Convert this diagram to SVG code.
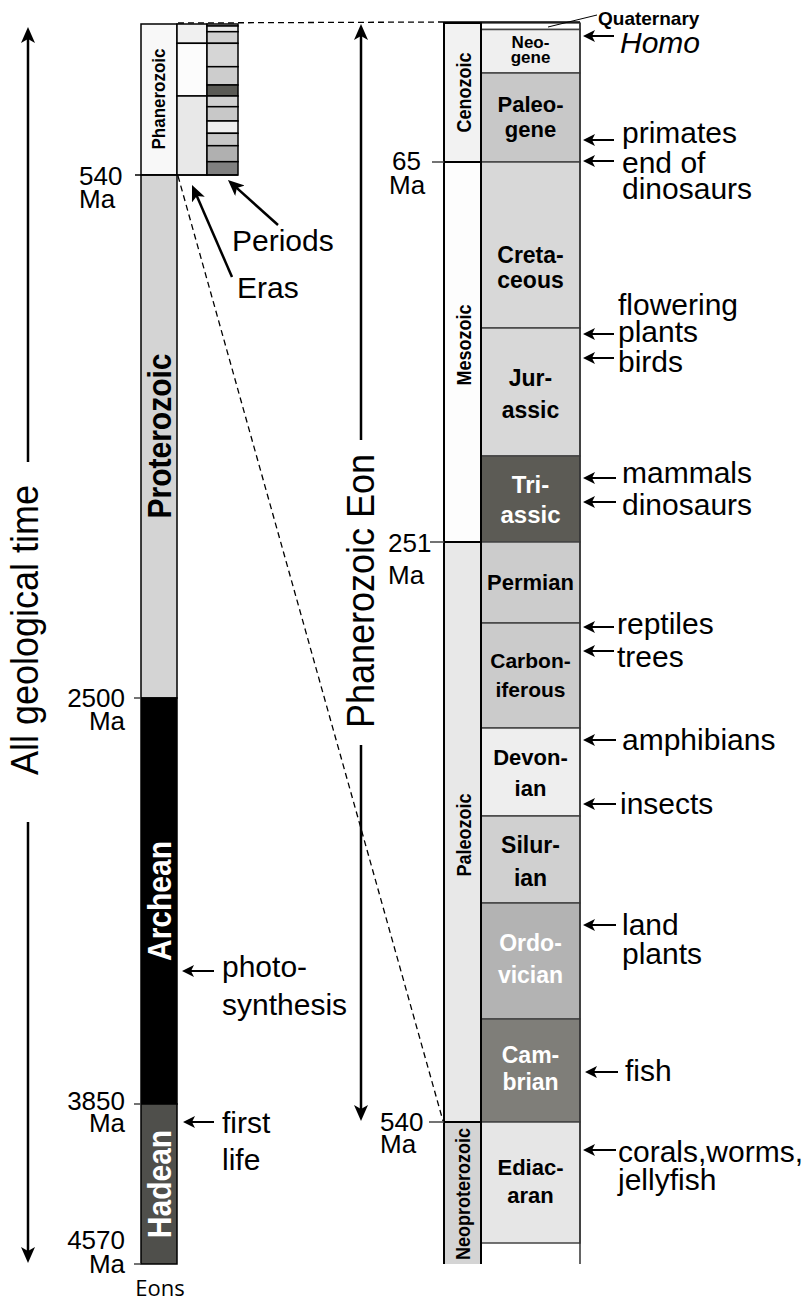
<svg xmlns="http://www.w3.org/2000/svg" width="810" height="1303" viewBox="0 0 810 1303">
<defs>
<style>
text{font-family:"Liberation Sans",Arial,Helvetica,sans-serif;fill:#000}
.lab{font-size:30px}
.tk{font-size:26px}
.pb{font-weight:bold;font-size:22px;text-anchor:middle}
.pw{font-weight:bold;font-size:22px;text-anchor:middle;fill:#fff}
.era{font-weight:bold;font-size:18px;text-anchor:middle}
.eon{font-weight:bold;font-size:30px;text-anchor:middle}
.big{font-size:36px;text-anchor:middle}
.bx{stroke:#000;stroke-width:1.5}
.pr{stroke:#444;stroke-width:1.5}
.er{stroke:#000;stroke-width:2}
.sa{stroke:#000;stroke-width:2;fill:none;marker-end:url(#s)}
.ba{stroke:#000;stroke-width:2.5;fill:none;marker-end:url(#b)}
.tick{stroke:#444;stroke-width:1.5}
.dash{stroke:#000;stroke-width:1.3;stroke-dasharray:6,4;fill:none}
</style>
<marker id="s" markerUnits="userSpaceOnUse" markerWidth="12" markerHeight="12" refX="6" refY="6" orient="auto" viewBox="0 0 12 12">
<path d="M0,0 L12,6 L0,12 L3,6 Z" fill="#000"/>
</marker>
<marker id="b" markerUnits="userSpaceOnUse" markerWidth="16" markerHeight="14" refX="8" refY="7" orient="auto" viewBox="0 0 16 14">
<path d="M0,0 L16,7 L0,14 L4,7 Z" fill="#000"/>
</marker>
</defs>
<rect width="810" height="1303" fill="#fff"/>

<!-- Left eon column -->
<g id="eon-phanerozoic">
<rect x="141" y="24" width="36" height="151" fill="#f8f8f8" class="bx"/>
<text class="era" transform="translate(165,99) scale(1.05,1) rotate(-90)" style="font-size:17px">Phanerozoic</text>
</g>
<g id="eon-proterozoic">
<rect x="141" y="175" width="36" height="523" fill="#d4d4d4" class="bx"/>
<text class="eon" transform="translate(171,436) scale(1.1,1) rotate(-90)">Proterozoic</text>
</g>
<g id="eon-archean">
<rect x="141" y="698" width="36" height="406" fill="#000" class="bx"/>
<text class="eon" transform="translate(171,901) scale(1.1,1) rotate(-90)" style="fill:#fff">Archean</text>
</g>
<g id="eon-hadean">
<rect x="141" y="1104" width="36" height="160" fill="#4f4f4b" class="bx"/>
<text class="eon" transform="translate(171,1184) scale(1.1,1) rotate(-90)" style="fill:#fff">Hadean</text>
</g>

<!-- Mini era column -->
<g id="mini-eras">
<rect x="177" y="24" width="30" height="19.3" fill="#f0f0f0" class="bx"/>
<rect x="177" y="43.3" width="30" height="52.7" fill="#fcfcfc" class="bx"/>
<rect x="177" y="96" width="30" height="79" fill="#e8e8e8" class="bx"/>
</g>
<!-- Mini period column -->
<g id="mini-periods">
<rect x="207" y="24" width="31" height="2" fill="#fff" class="bx"/>
<rect x="207" y="26" width="31" height="5.7" fill="#e8e8e8" class="bx"/>
<rect x="207" y="31.7" width="31" height="11.6" fill="#d0d0d0" class="bx"/>
<rect x="207" y="43.3" width="31" height="23.4" fill="#d6d6d6" class="bx"/>
<rect x="207" y="66.7" width="31" height="18.3" fill="#cdcdcd" class="bx"/>
<rect x="207" y="85" width="31" height="11" fill="#5a5a55" class="bx"/>
<rect x="207" y="96" width="31" height="10.7" fill="#d0d0d0" class="bx"/>
<rect x="207" y="106.7" width="31" height="14.3" fill="#c8c8c8" class="bx"/>
<rect x="207" y="121" width="31" height="12.3" fill="#f0f0f0" class="bx"/>
<rect x="207" y="133.3" width="31" height="12.4" fill="#c8c8c8" class="bx"/>
<rect x="207" y="145.7" width="31" height="16" fill="#b0b0b0" class="bx"/>
<rect x="207" y="161.7" width="31" height="13.3" fill="#808080" class="bx"/>
</g>

<!-- Left ticks and labels -->
<g id="left-ticks">
<line x1="135" y1="175" x2="238" y2="175" stroke="#000" stroke-width="1.5"/>
<line x1="134" y1="698" x2="141" y2="698" class="tick"/>
<line x1="134" y1="1104" x2="141" y2="1104" class="tick"/>
<line x1="134" y1="1264" x2="141" y2="1264" class="tick"/>
<text class="tk"><tspan x="79" y="185">540</tspan><tspan x="79" y="208">Ma</tspan></text>
<text class="tk" text-anchor="end"><tspan x="125" y="707">2500</tspan><tspan x="125" y="730">Ma</tspan></text>
<text class="tk" text-anchor="end"><tspan x="125" y="1110">3850</tspan><tspan x="125" y="1132">Ma</tspan></text>
<text class="tk" text-anchor="end"><tspan x="125" y="1249">4570</tspan><tspan x="125" y="1273">Ma</tspan></text>
<text x="160" y="1296" text-anchor="middle" style="font-family:'Open Sans','Liberation Sans',sans-serif;font-size:22px">Eons</text>
</g>

<!-- Right era column -->
<g id="era-cenozoic">
<rect x="444" y="23" width="37" height="139" fill="#f2f2f2" class="er"/>
<text class="era" transform="translate(471,92.5) scale(1.1,1) rotate(-90)">Cenozoic</text>
</g>
<g id="era-mesozoic">
<rect x="444" y="162" width="37" height="380" fill="#fdfdfd" class="er"/>
<text class="era" transform="translate(471,345) scale(1.1,1) rotate(-90)">Mesozoic</text>
</g>
<g id="era-paleozoic">
<rect x="444" y="542" width="37" height="580" fill="#e8e8e8" class="er"/>
<text class="era" transform="translate(471,835) scale(1.1,1) rotate(-90)">Paleozoic</text>
</g>
<g id="era-neoproterozoic">
<path d="M444,1264 V1122 H481 V1264" fill="#d4d4d4" class="er"/>
<text class="era" transform="translate(470,1194) scale(1.1,1) rotate(-90)">Neoproterozoic</text>
</g>

<!-- Right period column -->
<g id="p-quaternary"><rect x="481" y="23" width="99" height="6.5" fill="#fff" class="pr"/></g>
<g id="p-neogene"><rect x="481" y="29.5" width="99" height="43.5" fill="#efefef" class="pr"/>
<text class="pb" style="font-size:17px"><tspan x="530.5" y="48">Neo-</tspan><tspan x="530.5" y="63">gene</tspan></text></g>
<g id="p-paleogene"><rect x="481" y="73" width="99" height="89" fill="#c8c8c8" class="pr"/>
<text class="pb"><tspan x="530.5" y="112">Paleo-</tspan><tspan x="530.5" y="137">gene</tspan></text></g>
<g id="p-cretaceous"><rect x="481" y="162" width="99" height="166" fill="#d8d8d8" class="pr"/>
<text class="pb" style="font-size:23px"><tspan x="530.5" y="263">Creta-</tspan><tspan x="530.5" y="288">ceous</tspan></text></g>
<g id="p-jurassic"><rect x="481" y="328" width="99" height="128" fill="#d8d8d8" class="pr"/>
<text class="pb" style="font-size:23px"><tspan x="530.5" y="386">Jur-</tspan><tspan x="530.5" y="418">assic</tspan></text></g>
<g id="p-triassic"><rect x="481" y="456" width="99" height="86" fill="#5c5b55" class="pr"/>
<text class="pw" style="font-size:24px"><tspan x="530.5" y="493">Tri-</tspan><tspan x="530.5" y="523">assic</tspan></text></g>
<g id="p-permian"><rect x="481" y="542" width="99" height="81" fill="#cccccc" class="pr"/>
<text class="pb" x="530.5" y="590">Permian</text></g>
<g id="p-carboniferous"><rect x="481" y="623" width="99" height="105" fill="#cbcbcb" class="pr"/>
<text class="pb" style="font-size:21px"><tspan x="530.5" y="668">Carbon-</tspan><tspan x="530.5" y="697">iferous</tspan></text></g>
<g id="p-devonian"><rect x="481" y="728" width="99" height="88" fill="#eeeeee" class="pr"/>
<text class="pb"><tspan x="530.5" y="765">Devon-</tspan><tspan x="530.5" y="796">ian</tspan></text></g>
<g id="p-silurian"><rect x="481" y="816" width="99" height="87" fill="#d0d0d0" class="pr"/>
<text class="pb" style="font-size:23px"><tspan x="530.5" y="853">Silur-</tspan><tspan x="530.5" y="886">ian</tspan></text></g>
<g id="p-ordovician"><rect x="481" y="903" width="99" height="116" fill="#b3b3b3" class="pr"/>
<text class="pw" style="font-size:23px"><tspan x="530.5" y="951">Ordo-</tspan><tspan x="530.5" y="983">vician</tspan></text></g>
<g id="p-cambrian"><rect x="481" y="1019" width="99" height="103" fill="#7f7e79" class="pr"/>
<text class="pw" style="font-size:23px"><tspan x="530.5" y="1063">Cam-</tspan><tspan x="530.5" y="1090">brian</tspan></text></g>
<g id="p-ediacaran"><rect x="481" y="1122" width="99" height="121" fill="#e6e6e6" class="pr"/>
<text class="pb"><tspan x="530.5" y="1175">Ediac-</tspan><tspan x="530.5" y="1203">aran</tspan></text></g>

<g id="right-frame">
<line x1="580" y1="23" x2="580" y2="1264" stroke="#333" stroke-width="1.5"/>
<line x1="481" y1="23" x2="481" y2="1264" stroke="#000" stroke-width="2"/>
<line x1="444" y1="22" x2="580" y2="22" stroke="#000" stroke-width="1.5"/>
<line x1="432" y1="162" x2="444" y2="162" class="tick"/>
<line x1="430" y1="542" x2="444" y2="542" class="tick"/>
<line x1="429" y1="1122" x2="444" y2="1122" class="tick"/>
<text class="tk"><tspan x="392" y="170">65</tspan><tspan x="389" y="194">Ma</tspan></text>
<text class="tk"><tspan x="388" y="552">251</tspan><tspan x="388" y="584">Ma</tspan></text>
<text class="tk"><tspan x="380" y="1131">540</tspan><tspan x="380" y="1153">Ma</tspan></text>
</g>

<!-- Big rotated labels -->
<g id="all-time">
<text class="big" transform="translate(38,630) scale(1.1,1) rotate(-90)">All geological time</text>
</g>
<g id="phan-eon">
<text class="big" transform="translate(374,591) scale(1.1,1) rotate(-90)">Phanerozoic Eon</text>
</g>

<!-- Side labels -->
<g id="labels">
<text class="lab" x="237" y="298">Eras</text>
<text class="lab" x="232" y="251">Periods</text>
<text class="lab"><tspan x="222" y="977">photo-</tspan><tspan x="222" y="1015">synthesis</tspan></text>
<text class="lab"><tspan x="222" y="1133">first</tspan><tspan x="222" y="1170">life</tspan></text>
<text x="598" y="25" style="font-weight:bold;font-size:19px">Quaternary</text>
<text class="lab" x="620" y="53" font-style="italic">Homo</text>
<text class="lab" x="622" y="143">primates</text>
<text class="lab"><tspan x="622" y="173">end of</tspan><tspan x="622" y="199">dinosaurs</tspan></text>
<text class="lab"><tspan x="618" y="315">flowering</tspan><tspan x="618" y="342">plants</tspan></text>
<text class="lab" x="618" y="372">birds</text>
<text class="lab" x="622" y="483">mammals</text>
<text class="lab" x="622" y="515">dinosaurs</text>
<text class="lab" x="617" y="634">reptiles</text>
<text class="lab" x="617" y="667">trees</text>
<text class="lab" x="622" y="750">amphibians</text>
<text class="lab" x="620" y="814">insects</text>
<text class="lab"><tspan x="622" y="935">land</tspan><tspan x="622" y="964">plants</tspan></text>
<text class="lab" x="625" y="1081">fish</text>
<text class="lab"><tspan x="618" y="1162">corals,worms,</tspan><tspan x="618" y="1190">jellyfish</tspan></text>
</g>

<!-- Connectors -->
<g id="connectors">
<line class="dash" x1="178" y1="23" x2="444" y2="22"/>
<line class="dash" x1="178" y1="176" x2="443" y2="1121"/>
<line x1="548" y1="27" x2="597" y2="15" stroke="#000" stroke-width="1"/>
<line class="ba" x1="28" y1="462" x2="28" y2="35"/>
<line class="ba" x1="28" y1="822" x2="28" y2="1255"/>
<line class="ba" x1="361" y1="440" x2="361" y2="32"/>
<line class="ba" x1="361" y1="745" x2="361" y2="1113"/>
<line class="ba" x1="232" y1="277" x2="195.2" y2="192.3"/>
<line class="ba" x1="278" y1="225" x2="233.9" y2="185.4"/>
<line class="sa" x1="214" y1="971" x2="188" y2="971"/>
<line class="sa" x1="214" y1="1122" x2="189" y2="1122"/>
<line class="sa" x1="614" y1="36" x2="589" y2="36"/>
<line class="sa" x1="614" y1="140" x2="589" y2="140"/>
<line class="sa" x1="614" y1="161" x2="589" y2="161"/>
<line class="sa" x1="614" y1="334" x2="589" y2="334"/>
<line class="sa" x1="614" y1="358" x2="589" y2="358"/>
<line class="sa" x1="616" y1="478" x2="589" y2="478"/>
<line class="sa" x1="616" y1="502" x2="589" y2="502"/>
<line class="sa" x1="614" y1="627" x2="589" y2="627"/>
<line class="sa" x1="614" y1="651" x2="589" y2="651"/>
<line class="sa" x1="616" y1="740" x2="589" y2="740"/>
<line class="sa" x1="616" y1="804" x2="589" y2="804"/>
<line class="sa" x1="616" y1="925" x2="589" y2="925"/>
<line class="sa" x1="618" y1="1072" x2="591" y2="1072"/>
<line class="sa" x1="616" y1="1150" x2="589" y2="1150"/>
</g>
</svg>
